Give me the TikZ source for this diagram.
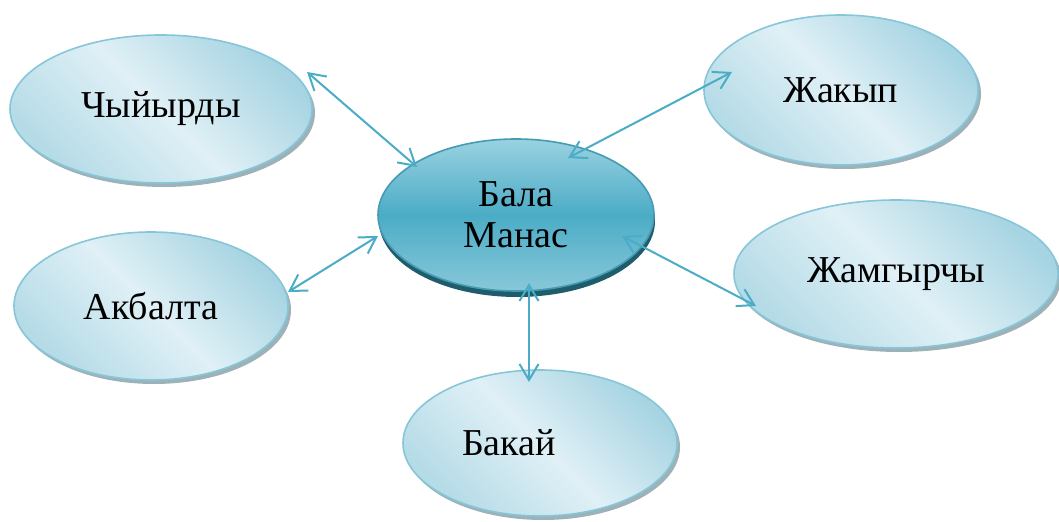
\documentclass[tikz,border=0pt]{standalone}
\usepackage{fontspec}
\setmainfont{Liberation Serif}
\usepackage{tikz}
\usetikzlibrary{arrows.meta,shapes.geometric,shadows,calc}
\definecolor{aqua}{HTML}{4BACC6}
\definecolor{bubbleline}{HTML}{86C6D8}
\definecolor{bubbledark}{HTML}{A6D4E2}
\definecolor{bubblelight}{HTML}{E0F0F6}
\definecolor{bubbleshadow}{HTML}{8CA4AB}
\definecolor{herotop}{HTML}{9AD2E1}
\definecolor{herobottom}{HTML}{88C8D9}
\definecolor{heroshadow}{HTML}{1F5C6C}
\tikzstyle{bubble}=[ellipse,draw=bubbleline,line width=0.8pt,inner sep=0pt,
  top color=bubbledark,bottom color=bubbledark!75!bubblelight,middle color=bubblelight,shading angle=-45,
  drop shadow={shadow xshift=1.5pt,shadow yshift=-2pt,fill=bubbleshadow,opacity=0.85},
  font=\fontsize{19}{20.5}\selectfont]
\tikzstyle{hero}=[ellipse,draw=aqua!90!black,line width=0.8pt,inner sep=0pt,
  top color=herotop,bottom color=herobottom,middle color=aqua,
  drop shadow={shadow xshift=0.5pt,shadow yshift=-3pt,fill=heroshadow,opacity=1},
  font=\fontsize{19}{20.5}\selectfont,align=center]
\tikzstyle{link}=[{Straight Barb[length=8pt,width=9.5pt]}-{Straight Barb[length=8pt,width=9.5pt]},draw=aqua,line width=1pt]

\begin{document}
\begin{tikzpicture}[x=0.5pt,y=-0.5pt]
\useasboundingbox (0,0) rectangle (1059,522);
\node [hero,minimum width=138pt,minimum height=76pt] (bala) at (516,215) {Бала\\Манас};
\node [bubble,minimum width=151pt,minimum height=74pt] (chy) at (161,109) {Чыйырды};
\node [bubble,minimum width=137pt,minimum height=75pt] (zhak) at (841,90) {Жакып};
\node [bubble,minimum width=137pt,minimum height=74pt] (akb) at (151,306) {Акбалта};
\node [bubble,minimum width=162pt,minimum height=74pt] (zham) at (896,274) {Жамгырчы};
\node [bubble,minimum width=137pt,minimum height=73pt] (bak) at (540,443) {\hspace*{-31pt}Бакай};

\draw [link] ($(chy)+(146,-37)$) -- ($(bala)+(-99,-48)$);
\draw [link] ($(zhak)+(-109,-18)$) -- ($(bala)+(52,-57)$);
\draw [link] ($(akb)+(137,-14)$) -- ($(bala)+(-138,21)$);
\draw [link] ($(bala)+(106,21)$) -- ($(zham)+(-140,32)$);
\draw [link] ($(bala)+(13,68)$) -- ($(bak)+(-11,-61)$);
\end{tikzpicture}
\end{document}
